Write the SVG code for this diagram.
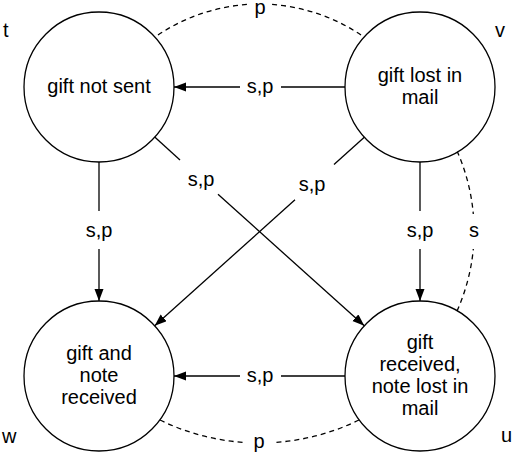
<svg xmlns="http://www.w3.org/2000/svg" width="512" height="456" viewBox="0 0 512 456">
<style>
  .node { fill: #ffffff; stroke: #000000; stroke-width: 1.3; }
  .t { font-family: "Liberation Sans", Arial, Helvetica, sans-serif; font-size: 20px; fill: #000000; text-anchor: middle; }
  .corner { font-family: "Liberation Sans", Arial, Helvetica, sans-serif; font-size: 20px; fill: #000000; }
  .edge { fill: none; stroke: #000000; stroke-width: 1.3; }
  .dash { fill: none; stroke: #000000; stroke-width: 1.3; stroke-dasharray: 5 4; }
</style>
<defs>
  <marker id="arrow" markerUnits="userSpaceOnUse" markerWidth="13" markerHeight="10" refX="12" refY="4.5" orient="auto">
    <path d="M0,0 L12,4.5 L0,9 z" fill="#000000"/>
  </marker>
</defs>
<rect width="512" height="456" fill="#ffffff"/>

<g id="connectors">
  <!-- v -> t -->
  <line class="edge" x1="345" y1="87" x2="281" y2="87"/>
  <line class="edge" x1="240" y1="87" x2="174" y2="87" marker-end="url(#arrow)"/>
  <text class="t" x="260" y="93">s,p</text>
  <!-- u -> w -->
  <line class="edge" x1="345" y1="376" x2="281" y2="376"/>
  <line class="edge" x1="240" y1="376" x2="174" y2="376" marker-end="url(#arrow)"/>
  <text class="t" x="260" y="382">s,p</text>
  <!-- t -> w -->
  <line class="edge" x1="99" y1="162" x2="99" y2="211"/>
  <line class="edge" x1="99" y1="249" x2="99" y2="301" marker-end="url(#arrow)"/>
  <text class="t" x="99" y="237">s,p</text>
  <!-- v -> u -->
  <line class="edge" x1="420" y1="162" x2="420" y2="211"/>
  <line class="edge" x1="420" y1="249" x2="420" y2="301" marker-end="url(#arrow)"/>
  <text class="t" x="420" y="237">s,p</text>
  <!-- t -> u -->
  <line class="edge" x1="154.7" y1="137.1" x2="180" y2="159.9"/>
  <line class="edge" x1="218" y1="194.3" x2="364.3" y2="325.8" marker-end="url(#arrow)"/>
  <text class="t" x="201" y="186">s,p</text>
  <!-- v -> w -->
  <line class="edge" x1="364.3" y1="137.2" x2="334" y2="164.5"/>
  <line class="edge" x1="295" y1="199.8" x2="154.7" y2="325.8" marker-end="url(#arrow)"/>
  <text class="t" x="312" y="191">s,p</text>
  <!-- t - v dashed (p) -->
  <path class="dash" d="M158,35 A183,183 0 0 1 248,4.4"/>
  <path class="dash" d="M361,35 A183,183 0 0 0 271,4.4"/>
  <text class="t" x="260" y="14">p</text>
  <!-- w - u dashed (p) -->
  <path class="dash" d="M160,420 A227,227 0 0 0 243,442.4"/>
  <path class="dash" d="M359,420 A227,227 0 0 1 276,442.4"/>
  <text class="t" x="259" y="448">p</text>
  <!-- v - u dashed (s) -->
  <path class="dash" d="M457,151 A197,197 0 0 1 473.3,214"/>
  <path class="dash" d="M457,311 A197,197 0 0 0 473.3,249"/>
  <text class="t" x="474" y="237">s</text>
</g>

<g id="node-t">
  <circle class="node" cx="99" cy="87" r="75"/>
  <text class="t" x="99" y="93">gift not sent</text>
  <text class="corner" x="3" y="37">t</text>
</g>
<g id="node-v">
  <circle class="node" cx="420" cy="87" r="75"/>
  <text class="t" x="420" y="82">gift lost in</text>
  <text class="t" x="420" y="104">mail</text>
  <text class="corner" x="495" y="37">v</text>
</g>
<g id="node-w">
  <circle class="node" cx="99" cy="376" r="75"/>
  <text class="t" x="99" y="360">gift and</text>
  <text class="t" x="99" y="382">note</text>
  <text class="t" x="99" y="404">received</text>
  <text class="corner" x="2" y="443">w</text>
</g>
<g id="node-u">
  <circle class="node" cx="420" cy="376" r="75"/>
  <text class="t" x="420" y="349">gift</text>
  <text class="t" x="420" y="371">received,</text>
  <text class="t" x="420" y="393">note lost in</text>
  <text class="t" x="420" y="415">mail</text>
  <text class="corner" x="501" y="442">u</text>
</g>
</svg>
